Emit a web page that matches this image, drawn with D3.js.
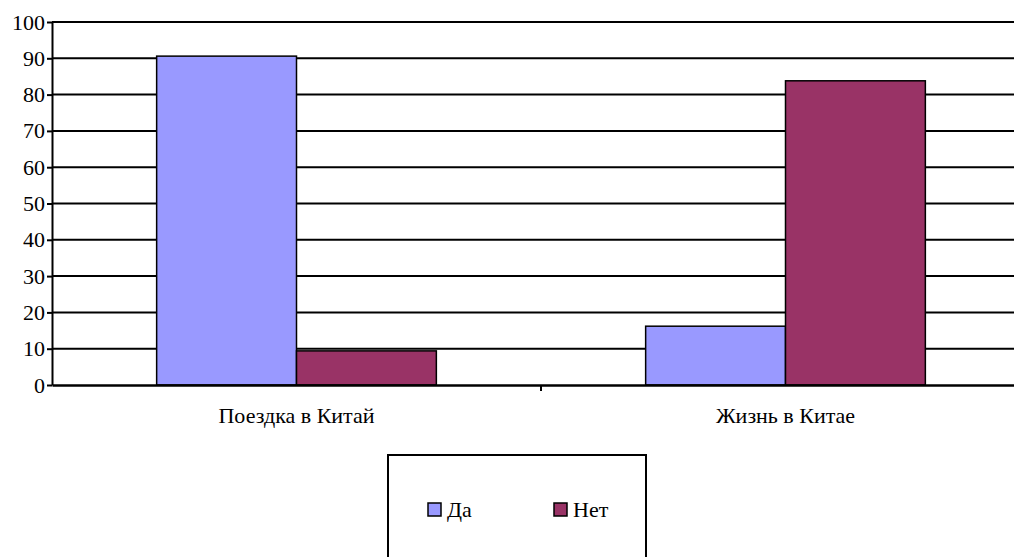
<!DOCTYPE html>
<html>
<head>
<meta charset="utf-8">
<script src="https://cdn.jsdelivr.net/npm/d3@7"></script>
<style>
  body { margin: 0; background: #fff; }
  svg text { font-family: "Liberation Serif", "Times New Roman", serif !important; }
</style>
</head>
<body>
<div class="chart"></div>
<script>
var categories = ["Поездка в Китай", "Жизнь в Китае"];
var seriesNames = ["Да", "Нет"];
var yesValues = [90.6, 16.2];
var noValues = [9.4, 83.8];
var yTicks = [0, 10, 20, 30, 40, 50, 60, 70, 80, 90, 100];
var colors = ["#9999ff", "#993366"];

var svgWidth = 1014;
var svgHeight = 557;
var fontName = "Liberation Serif";

// plot area runs past the right edge of the picture, as in the original
var margin = { top: 22, left: 52 };
var width = 978;
var height = 363;

var svg = d3.select(".chart")
    .append("svg")
    .attr("width", svgWidth)
    .attr("height", svgHeight)
    .attr("font-family", fontName);

var chartGroup = svg.append("g")
    .attr("transform", `translate(${margin.left}, ${margin.top})`);

var x0 = d3.scaleBand()
    .domain(categories)
    .range([0, width])
    .padding(0);

var x1 = d3.scaleBand()
    .domain(seriesNames)
    .range([0, x0.bandwidth() * 0.572])
    .padding(0);

var y = d3.scaleLinear()
    .domain([0, 100])
    .range([height, 0]);

// gridlines
chartGroup.append("g")
    .selectAll("line")
    .data(yTicks.filter(d => d > 0))
    .join("line")
    .attr("x1", 0)
    .attr("x2", width)
    .attr("y1", d => y(d))
    .attr("y2", d => y(d))
    .attr("stroke", "#000")
    .attr("stroke-width", 2);

// bars
var data = categories.map((c, i) => ({ cat: c, vals: [yesValues[i], noValues[i]] }));
var barOffset = (x0.bandwidth() - x1.range()[1]) / 2;

chartGroup.append("g")
    .selectAll("g")
    .data(data)
    .join("g")
    .attr("transform", d => `translate(${x0(d.cat) + barOffset},0)`)
    .selectAll("rect")
    .data(d => d.vals.map((v, j) => ({ name: seriesNames[j], value: v, color: colors[j] })))
    .join("rect")
    .attr("x", d => x1(d.name))
    .attr("y", d => y(d.value))
    .attr("width", x1.bandwidth())
    .attr("height", d => y(0) - y(d.value))
    .attr("fill", d => d.color)
    .attr("stroke", "#000")
    .attr("stroke-width", 1.5);

// y axis
var leftAxis = d3.axisLeft(y)
    .tickValues(yTicks)
    .tickSize(5)
    .tickSizeOuter(0)
    .tickPadding(2);

var yAxis = chartGroup.append("g").call(leftAxis)
    .attr("font-family", fontName)
    .attr("font-size", 22);
yAxis.select(".domain").attr("stroke-width", 2);
yAxis.selectAll(".tick line").attr("stroke-width", 2);

// x axis
var bottomAxis = d3.axisBottom(x0)
    .tickSize(0)
    .tickPadding(22);

var xAxis = chartGroup.append("g")
    .attr("transform", `translate(0,${height})`)
    .call(bottomAxis)
    .attr("font-family", fontName)
    .attr("font-size", 22);
xAxis.select(".domain").attr("stroke-width", 2.5);

// tick between categories
chartGroup.append("line")
    .attr("x1", x0(categories[1]))
    .attr("x2", x0(categories[1]))
    .attr("y1", height)
    .attr("y2", height + 6)
    .attr("stroke", "#000")
    .attr("stroke-width", 2);

// legend
var legend = svg.append("g").attr("transform", "translate(388,455)");
legend.append("rect")
    .attr("width", 258)
    .attr("height", 120)
    .attr("fill", "#fff")
    .attr("stroke", "#000")
    .attr("stroke-width", 2);

var legendItems = legend.selectAll("g.item")
    .data(seriesNames)
    .join("g")
    .attr("class", "item")
    .attr("transform", (d, i) => `translate(${40 + i * 126},48)`);

legendItems.append("rect")
    .attr("width", 13)
    .attr("height", 13)
    .attr("fill", (d, i) => colors[i])
    .attr("stroke", "#000")
    .attr("stroke-width", 1.5);

legendItems.append("text")
    .attr("x", 19)
    .attr("y", 14)
    .attr("font-family", fontName)
    .attr("font-size", 22)
    .text(d => d);
</script>
</body>
</html>
